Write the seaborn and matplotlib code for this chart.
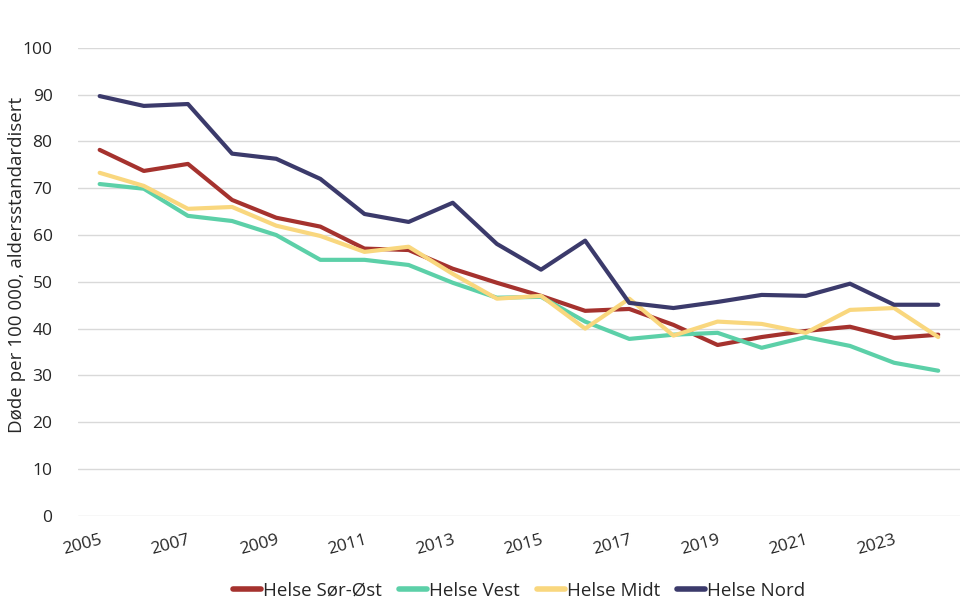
#!/usr/bin/env python3
"""Age-standardised mortality per health region, 2005-2024."""

import matplotlib

matplotlib.use("Agg")
import matplotlib.pyplot as plt
import pandas as pd
import seaborn as sns

YEARS = list(range(2005, 2025))

SOR_OST = [78.2, 73.7, 75.2, 67.5, 63.7, 61.8, 57.1, 56.8, 52.8, 49.8,
           47.0, 43.8, 44.2, 40.8, 36.5, 38.2, 39.5, 40.4, 38.0, 38.7]
VEST = [70.9, 69.9, 64.1, 63.0, 60.0, 54.7, 54.7, 53.6, 49.8, 46.6,
        46.8, 41.5, 37.8, 38.7, 39.1, 35.9, 38.2, 36.3, 32.7, 31.0]
MIDT = [73.3, 70.5, 65.6, 66.0, 62.0, 59.8, 56.4, 57.5, 51.7, 46.4,
        47.0, 40.0, 46.4, 38.5, 41.5, 41.0, 39.1, 44.0, 44.4, 38.2]
NORD = [89.7, 87.6, 88.0, 77.4, 76.3, 72.0, 64.5, 62.8, 66.9, 58.1,
        52.6, 58.8, 45.5, 44.4, 45.7, 47.2, 47.0, 49.6, 45.1, 45.1]

REGIONS = ["Helse Sør-Øst", "Helse Vest", "Helse Midt", "Helse Nord"]
COLORS = ["#A5322E", "#5CD0A8", "#F9D77E", "#3B3A6B"]

df = pd.DataFrame({"year": YEARS, REGIONS[0]: SOR_OST, REGIONS[1]: VEST,
                   REGIONS[2]: MIDT, REGIONS[3]: NORD})
long = df.melt(id_vars="year", var_name="region", value_name="rate")

sns.set_style("white")
plt.rcParams["font.family"] = ["Open Sans", "DejaVu Sans"]

fig = plt.figure(figsize=(9.7, 6.14), dpi=100)
ax = fig.add_axes([0.080, 0.160, 0.910, 0.762])

sns.lineplot(data=long, x="year", y="rate", hue="region", hue_order=REGIONS,
             palette=COLORS, linewidth=3, ax=ax)

ax.set_xlim(2004.5, 2024.5)
ax.set_ylim(0, 100)
ax.set_yticks(range(0, 101, 10))
ax.set_xticks(YEARS[::2])
ax.set_xticklabels([str(y) for y in YEARS[::2]], rotation=15, ha="right",
                   rotation_mode="anchor", fontsize=12.5)
ax.tick_params(axis="y", labelsize=12.5, length=0, pad=18)
ax.tick_params(axis="x", length=0, pad=12)
ax.yaxis.grid(True, color="#d9d9d9", linewidth=1)
for s in ax.spines.values():
    s.set_visible(False)
ax.set_xlabel("")
ax.set_ylabel("Døde per 100 000, aldersstandardisert", fontsize=13.5)
ax.yaxis.set_label_coords(-0.058, 0.536)

ax.legend(loc="upper center", bbox_to_anchor=(0.5, -0.105), ncol=4, frameon=False,
          fontsize=13.5, handlelength=1.5, handletextpad=0.1, columnspacing=0.9)
for line in ax.get_legend().get_lines():
    line.set_linewidth(4)

fig.savefig("out.png", dpi=100)
